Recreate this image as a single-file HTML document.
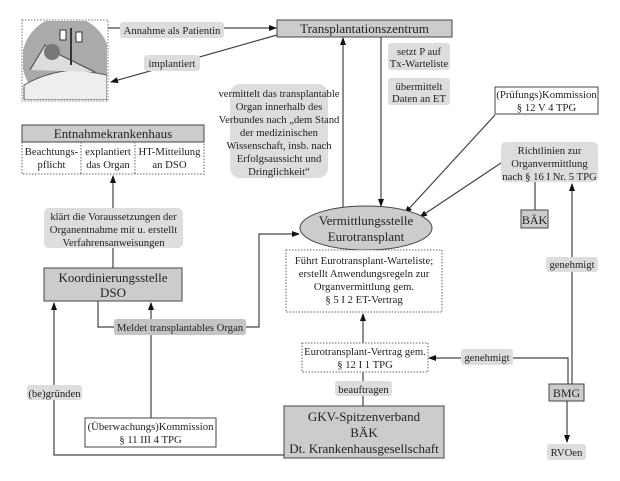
<!DOCTYPE html>
<html><head><meta charset="utf-8"><style>
body{margin:0;background:#fff}
svg{display:block}
text{font-family:"Liberation Serif",serif;fill:#222}
.b{font-size:13px}
</style></head><body>
<svg width="620" height="481" viewBox="0 0 620 481" xmlns="http://www.w3.org/2000/svg" font-size="10.7">
<defs><marker id="a" markerWidth="8" markerHeight="8" refX="7" refY="4" orient="auto" markerUnits="userSpaceOnUse"><path d="M0,1 L8,4 L0,7z" fill="#111"/></marker></defs>
<rect x="22" y="20" width="86" height="81" stroke="#777" stroke-dasharray="1.5,1.5" stroke-width="1" fill="none"/>
<clipPath id="c"><rect x="23" y="21" width="84" height="79"/></clipPath>
<g clip-path="url(#c)">
<circle cx="66" cy="60" r="44" fill="#aaa"/>
<path d="M24,85 Q50,70 80,70 L107,75 L107,100 L24,100z" fill="#eee" stroke="#555"/>
<path d="M30,70 L45,45 L60,55 L95,72" fill="#ddd" stroke="#444"/>
<circle cx="52" cy="52" r="8" fill="#777"/>
<line x1="71" y1="28" x2="71" y2="65" stroke="#333" stroke-width="2"/>
<rect x="60" y="30" width="6" height="10" fill="#fff" stroke="#333"/>
<rect x="76" y="32" width="6" height="10" fill="#fff" stroke="#333"/>
</g>
<g stroke="#444" stroke-width="1.2" fill="none">
<line x1="108" y1="28" x2="276" y2="28" marker-end="url(#a)"/>
<line x1="277" y1="35" x2="111" y2="82" marker-end="url(#a)"/>
<line x1="343" y1="210" x2="343" y2="38" marker-end="url(#a)"/>
<line x1="381" y1="37" x2="381" y2="206" marker-end="url(#a)"/>
<line x1="495" y1="115" x2="405" y2="213" marker-end="url(#a)"/>
<line x1="501" y1="163" x2="420" y2="217" marker-end="url(#a)"/>
<line x1="535" y1="182" x2="535" y2="210"/>
<line x1="572" y1="384" x2="572" y2="184" marker-end="url(#a)"/>
<line x1="363" y1="343" x2="363" y2="314" marker-end="url(#a)"/>
<polyline points="568,384 568,358 429,358" marker-end="url(#a)"/>
<line x1="363" y1="372" x2="363" y2="406"/>
<line x1="567" y1="401" x2="567" y2="442" marker-end="url(#a)"/>
<line x1="113" y1="268" x2="113" y2="176" marker-end="url(#a)"/>
<polyline points="98,301 98,327 114,327"/>
<polyline points="246,327 259,327 259,234 299,234" marker-end="url(#a)"/>
<line x1="151" y1="418" x2="151" y2="303" marker-end="url(#a)"/>
<polyline points="284,455 54,455 54,303" marker-end="url(#a)"/>
</g>
<rect x="277" y="20" width="175" height="17" fill="#ccc" stroke="#444"/>
<text class="b" x="364.5" y="33" text-anchor="middle">Transplantationszentrum</text>
<g fill="#ddd">
<rect x="120" y="22" width="104" height="16" rx="3"/>
<rect x="144" y="55" width="56" height="16" rx="3"/>
<rect x="230" y="84" width="98" height="94" rx="10"/>
<rect x="388" y="43" width="62" height="27" rx="3"/>
<rect x="388" y="78" width="62" height="27" rx="3"/>
<rect x="501" y="142" width="97" height="40" rx="5"/>
<rect x="546" y="257" width="52" height="15" rx="3"/>
<rect x="461" y="349" width="52" height="16" rx="3"/>
<rect x="335" y="381" width="57" height="15" rx="3"/>
<rect x="547" y="444" width="39" height="16" rx="3"/>
<rect x="44" y="208" width="139" height="40" rx="5"/>
<rect x="27" y="385" width="55" height="15" rx="3"/>
</g>
<rect x="114" y="319" width="132" height="16" rx="3" fill="#c4c4c4"/>
<text x="172" y="34" text-anchor="middle">Annahme als Patientin</text>
<text x="172" y="67" text-anchor="middle">implantiert</text>
<g text-anchor="middle">
<text x="279" y="97">vermittelt das transplantable</text>
<text x="279" y="110">Organ innerhalb des</text>
<text x="279" y="123">Verbundes nach „dem Stand</text>
<text x="279" y="136">der medizinischen</text>
<text x="279" y="149">Wissenschaft, insb. nach</text>
<text x="279" y="162">Erfolgsaussicht und</text>
<text x="279" y="175">Dringlichkeit“</text>
<text x="419" y="55">setzt P auf</text>
<text x="419" y="67">Tx-Warteliste</text>
<text x="419" y="90">übermittelt</text>
<text x="419" y="102">Daten an ET</text>
</g>
<rect x="495" y="87" width="103" height="27" fill="#fff" stroke="#444"/>
<g text-anchor="middle">
<text x="546.5" y="98">(Prüfungs)Kommission</text>
<text x="546.5" y="111">§ 12 V 4 TPG</text>
<text x="549.5" y="154">Richtlinien zur</text>
<text x="549.5" y="167">Organvermittlung</text>
<text x="549.5" y="180">nach § 16 I Nr. 5 TPG</text>
</g>
<rect x="521" y="210" width="27" height="18" fill="#ccc" stroke="#444"/>
<text x="534.5" y="224" text-anchor="middle" style="font-size:12px">BÄK</text>
<text x="572" y="268" text-anchor="middle">genehmigt</text>
<ellipse cx="366" cy="228" rx="66" ry="22" fill="#ccc" stroke="#444"/>
<text class="b" x="366" y="225" text-anchor="middle">Vermittlungsstelle</text>
<text class="b" x="366" y="241" text-anchor="middle">Eurotransplant</text>
<rect x="286" y="250" width="156" height="62" fill="#fff" stroke="#666" stroke-dasharray="1.5,1.5"/>
<g text-anchor="middle">
<text x="364" y="264">Führt Eurotransplant-Warteliste;</text>
<text x="364" y="277">erstellt Anwendungsregeln zur</text>
<text x="364" y="290">Organvermittlung gem.</text>
<text x="364" y="303">§ 5 I 2 ET-Vertrag</text>
</g>
<rect x="302" y="343" width="126" height="29" fill="#fff" stroke="#666" stroke-dasharray="1.5,1.5"/>
<text x="365" y="355" text-anchor="middle">Eurotransplant-Vertrag gem.</text>
<text x="365" y="368" text-anchor="middle">§ 12 I 1 TPG</text>
<text x="487" y="361" text-anchor="middle">genehmigt</text>
<text x="363.5" y="393" text-anchor="middle">beauftragen</text>
<rect x="284" y="406" width="160" height="52" fill="#ccc" stroke="#444"/>
<g text-anchor="middle">
<text class="b" x="364" y="421">GKV-Spitzenverband</text>
<text class="b" x="364" y="437">BÄK</text>
<text class="b" x="364" y="453">Dt. Krankenhausgesellschaft</text>
</g>
<rect x="549" y="384" width="35" height="17" fill="#ccc" stroke="#444"/>
<text x="566.5" y="397" text-anchor="middle" style="font-size:12px">BMG</text>
<text x="566.5" y="456" text-anchor="middle">RVOen</text>
<rect x="22" y="125" width="182" height="17" fill="#ccc" stroke="#444"/>
<text class="b" x="113" y="138" text-anchor="middle">Entnahmekrankenhaus</text>
<g stroke="#666" stroke-dasharray="1.5,1.5" fill="none">
<polyline points="22,142 22,174 204,174 204,142"/>
<line x1="81" y1="142" x2="81" y2="174"/>
<line x1="135" y1="142" x2="135" y2="174"/>
</g>
<g text-anchor="middle">
<text x="51.5" y="155">Beachtungs-</text>
<text x="51.5" y="168">pflicht</text>
<text x="108" y="155">explantiert</text>
<text x="108" y="168">das Organ</text>
<text x="169.5" y="155">HT-Mitteilung</text>
<text x="169.5" y="168">an DSO</text>
<text x="113.5" y="220">klärt die Voraussetzungen der</text>
<text x="113.5" y="233">Organentnahme mit u. erstellt</text>
<text x="113.5" y="246">Verfahrensanweisungen</text>
</g>
<rect x="44" y="268" width="138" height="33" fill="#ccc" stroke="#444"/>
<text class="b" x="113" y="282" text-anchor="middle">Koordinierungsstelle</text>
<text class="b" x="113" y="297" text-anchor="middle">DSO</text>
<text x="180" y="331" text-anchor="middle">Meldet transplantables Organ</text>
<text x="54.5" y="397" text-anchor="middle">(be)gründen</text>
<rect x="85" y="418" width="131" height="29" fill="#fff" stroke="#444"/>
<text x="150.5" y="430" text-anchor="middle">(Überwachungs)Kommission</text>
<text x="150.5" y="443" text-anchor="middle">§ 11 III 4 TPG</text>
</svg>
</body></html>
